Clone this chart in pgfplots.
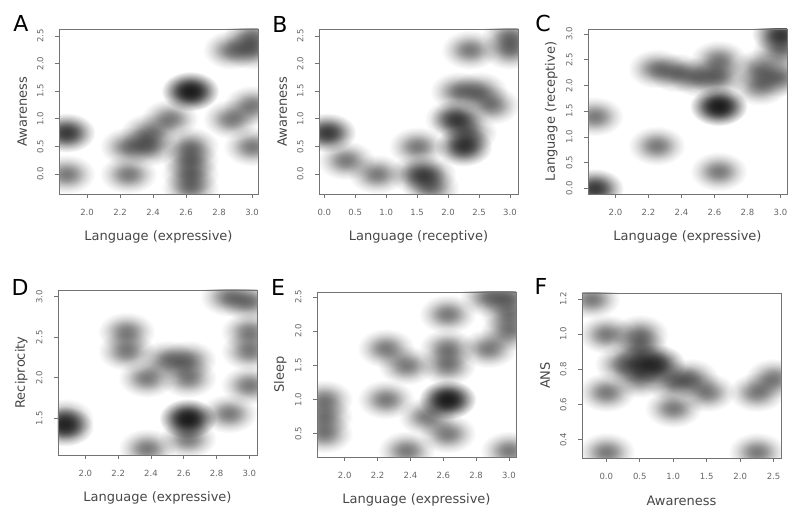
\documentclass[border=0pt]{standalone}
\usepackage{pgfplots}
\pgfplotsset{compat=1.18}
\usepackage{fontspec}
\setmainfont{DejaVu Sans}

% soft gaussian-like blob, multiplied onto the white ground so overlaps darken
\pgfdeclareradialshading{blobshade}{\pgfpointorigin}{%
  color(0bp)=(black!52); color(4bp)=(black!49); color(8bp)=(black!41);
  color(12bp)=(black!29); color(16bp)=(black!17); color(20bp)=(black!8);
  color(23bp)=(black!3); color(25bp)=(white); color(50bp)=(white)}
\pgfdeclareplotmark{blob}{%
  \pgfsetblendmode{multiply}%
  \pgfpathellipse{\pgfpointorigin}{\pgfpoint{29pt}{0pt}}{\pgfpoint{0pt}{20pt}}%
  \pgfshadepath{blobshade}{0}%
  \pgfusepath{discard}}

\pgfplotsset{
  panel/.style={
    scale only axis, width=199pt, height=165pt, anchor=south west,
    axis on top, clip marker paths=true,
    axis line style={black!55, line width=0.8pt},
    tick style={black!55, line width=0.7pt},
    tick align=outside, major tick length=4pt,
    xtick pos=left, ytick pos=left,
    tick label style={font=\fontsize{8.5}{10}\selectfont, text=black!60},
    yticklabel style={rotate=90, anchor=south},
    xticklabel shift=8pt, yticklabel shift=8pt,
    /pgf/number format/fixed, /pgf/number format/fixed zerofill,
    /pgf/number format/precision=1, /pgf/number format/assume math mode=true,
    label style={font=\fontsize{13}{15}\selectfont, text=black!72},
    xlabel style={at={(axis description cs:0.5,-0.26)}, anchor=center},
    ylabel style={at={(axis description cs:-0.185,0.5)}, anchor=center},
  },
  blobs/.style={only marks, mark=blob},
}

\begin{document}
\begin{tikzpicture}
\useasboundingbox (0,0) rectangle (800pt,521pt);

% A
\begin{axis}[panel, at={(59pt,327pt)},
  xmin=1.83, xmax=3.036, ymin=-0.36, ymax=2.626,
  xtick={2,2.2,2.4,2.6,2.8,3}, ytick={0,0.5,1,1.5,2,2.5},
  xlabel={Language (expressive)}, ylabel={Awareness}]
\addplot[blobs] coordinates {
  (1.875,0.75) (1.875,0.75) (1.875,0) (2.25,0.5) (2.25,0)
  (2.375,0.75) (2.375,0.5) (2.5,1) (2.625,1.5) (2.625,1.5) (2.625,1.5)
  (2.625,0.5) (2.625,0.25) (2.625,0) (2.625,-0.25)
  (2.875,1) (3,1.25) (3,0.5) (2.875,2.25) (3,2.25) (3,2.5)
};
\end{axis}

% B
\begin{axis}[panel, at={(319pt,327pt)},
  xmin=-0.085, xmax=3.13, ymin=-0.36, ymax=2.626,
  xtick={0,0.5,1,1.5,2,2.5,3}, ytick={0,0.5,1,1.5,2,2.5},
  xlabel={Language (receptive)}, ylabel={Awareness}]
\addplot[blobs] coordinates {
  (0.05,0.75) (0.05,0.75) (0.35,0.25) (0.85,0) (1.5,0) (1.67,0)
  (1.72,-0.25) (1.5,0.5) (2.08,1) (2.17,1) (2.17,1.5) (2.5,1.5)
  (2.7,1.25) (2.25,0.5) (2.25,0.5) (2.33,0.75) (2.35,2.25)
  (3,2.5) (3,2.25)
};
\end{axis}

% C
\begin{axis}[panel, at={(588pt,327pt)},
  xmin=1.834, xmax=3.04, ymin=-0.11, ymax=3.10,
  xtick={2,2.2,2.4,2.6,2.8,3}, ytick={0,0.5,1,1.5,2,2.5,3},
  xlabel={Language (expressive)}, ylabel={Language (receptive)}]
\addplot[blobs] coordinates {
  (1.875,0) (1.875,0) (1.875,1.4) (2.25,0.83) (2.25,2.33)
  (2.375,2.25) (2.5,2.17) (2.625,2.17) (2.625,2.5)
  (2.625,1.6) (2.625,1.6) (2.625,1.6) (2.625,0.33) (2.875,2.33) (2.875,2)
  (3,3) (3,3) (3,2.67) (3,2.17)
};
\end{axis}

% D
\begin{axis}[panel, at={(58pt,66pt)},
  xmin=1.833, xmax=3.047, ymin=1.048, ymax=3.083,
  xtick={2,2.2,2.4,2.6,2.8,3}, ytick={1.5,2,2.5,3},
  xlabel={Language (expressive)}, ylabel={Reciprocity}]
\addplot[blobs] coordinates {
  (1.875,1.5) (1.875,1.4) (1.875,1.4) (2.25,2.57) (2.25,2.33)
  (2.375,2) (2.375,1.13) (2.5,2.22) (2.625,2.22) (2.625,2)
  (2.625,1.5) (2.625,1.5) (2.625,1.5) (2.625,1.25) (2.875,1.56) (2.875,3)
  (3,2.94) (3,2.57) (3,2.33) (3,1.91)
};
\end{axis}

% E
\begin{axis}[panel, at={(317pt,64pt)},
  xmin=1.831, xmax=3.043, ymin=0.156, ymax=2.574,
  xtick={2,2.2,2.4,2.6,2.8,3}, ytick={0.5,1,1.5,2,2.5},
  xlabel={Language (expressive)}, ylabel={Sleep}]
\addplot[blobs] coordinates {
  (1.875,1) (1.875,0.75) (1.875,0.5) (2.25,1.75) (2.25,1)
  (2.375,1.5) (2.375,0.25) (2.5,0.75) (2.625,2.25) (2.625,1.75)
  (2.625,1.5) (2.625,1) (2.625,1) (2.625,1) (2.625,0.5) (2.875,1.75)
  (2.875,2.5) (3,2.5) (3,2.25) (3,2) (3,0.25)
};
\end{axis}

% F
\begin{axis}[panel, at={(582pt,63pt)},
  xmin=-0.363, xmax=2.61, ymin=0.296, ymax=1.234,
  xtick={0,0.5,1,1.5,2,2.5}, ytick={0.4,0.6,0.8,1,1.2},
  xlabel={Awareness}, ylabel={ANS}]
\addplot[blobs] coordinates {
  (-0.22,1.2) (0,1) (0,0.67) (0,0.33) (0.25,0.83) (0.5,1)
  (0.5,0.92) (0.5,0.83) (0.5,0.75) (0.75,0.83) (0.75,0.83)
  (1,0.73) (1.25,0.75) (1,0.58) (1.5,0.67) (2.25,0.67)
  (2.5,0.75) (2.25,0.33)
};
\end{axis}

\foreach \t/\x/\y in {A/21/498, B/280/497, C/543/497, D/20/234, E/278/234, F/541/235}
  \node[font=\fontsize{22}{24}\selectfont] at (\x pt,\y pt) {\t};
\end{tikzpicture}
\end{document}
